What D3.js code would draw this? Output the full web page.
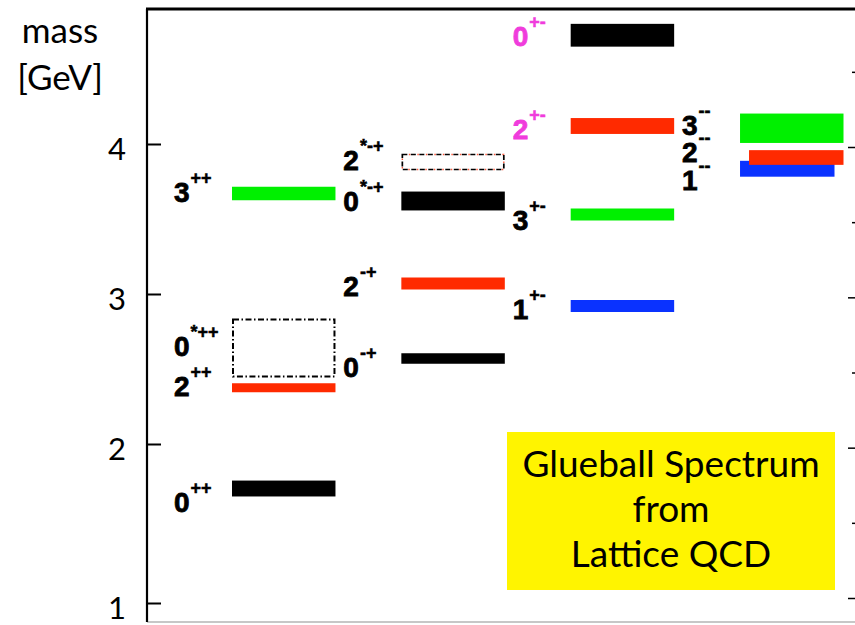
<!DOCTYPE html>
<html>
<head>
<meta charset="utf-8">
<script src="https://cdn.jsdelivr.net/npm/d3@7"></script>
<style>
  html, body { margin: 0; padding: 0; background: #fff; }
  svg { display: block; }
</style>
</head>
<body>
<svg id="chart" width="855" height="625"></svg>
<script>
// Glueball mass spectrum (GeV), grouped by PC quantum numbers.
const columns = ["++", "-+", "+-", "--"];

const stateSpin   = ["0", "2", "3", "0", "0", "2", "0", "2", "1", "3", "2", "0", "3", "1", "2"];
const stateSup    = ["++", "++", "++", "*++", "-+", "-+", "*-+", "*-+", "+-", "+-", "+-", "+-", "--", "--", "--"];
const stateColumn = ["++", "++", "++", "++", "-+", "-+", "-+", "-+", "+-", "+-", "+-", "+-", "--", "--", "--"];
const stateMass   = [1.72, 2.375, 3.67, 2.64, 2.57, 3.07, 3.62, 3.88, 2.92, 3.53, 4.12, 4.725, 4.105, 3.835, 3.91];
const stateError  = [0.05, 0.03, 0.045, 0.19, 0.035, 0.04, 0.063, 0.05, 0.04, 0.04, 0.053, 0.076, 0.098, 0.053, 0.049];
const stateKind   = ["J0", "J2", "J3", "excited", "J0", "J2", "J0", "excited2", "J1", "J3", "J2", "J0", "J3", "J1", "J2"];
const stateExotic = [false, false, false, false, false, false, false, false, false, false, true, true, false, false, false];

const massTicks = [1, 2, 3, 4];
const rightTicksMajor = [1, 2, 3, 4];
const rightTicksMinor = [1.5, 2.5, 3.5, 4.5];
const axisTitle = ["mass", "[GeV]"];
const boxLines = ["Glueball Spectrum", "from", "Lattice QCD"];

// ---- layout ----
const W = 855, H = 625;
const frame = { left: 147, top: 9, right: 856, bottom: 622 };
const colour = {
  J0: "#000000", J1: "#0a32ff", J2: "#ff2a00", J3: "#00f000",
  exotic: "#f03cdc", text: "#000000", box: "#fff400"
};
// vertical distance from bar centre to label baseline, px
const labelDrop = [23, 8, 8, 8, 18, 12, 10, 8, 12.5, 15.5, 13, 11, 7, 21, 4.5];
// horizontal trim of the overlapping bars in the last column, px
const trimLeft  = [0, 0, 0, 0, 0, 0, 0, 0, 0, 0, 0, 0, 0, 0, 9];
const trimRight = [0, 0, 0, 0, 0, 0, 0, 0, 0, 0, 0, 0, 0, 9, 0];

const svg = d3.select("#chart");

const y = d3.scaleLinear().domain([1, 2, 4]).range([603, 444, 144]);
const yRight = d3.scaleLinear().domain([1, 4]).range([598, 147]);
const x = d3.scaleBand().domain(columns).range([232, 843.5]).paddingInner(0.389).paddingOuter(0);

// frame
svg.append("line").attr("x1", frame.left).attr("x2", W).attr("y1", frame.bottom).attr("y2", frame.bottom)
  .attr("stroke", "#b4b4b4").attr("stroke-width", 1.5);
svg.append("line").attr("x1", frame.left - 1).attr("x2", W).attr("y1", frame.top).attr("y2", frame.top)
  .attr("stroke", "#000").attr("stroke-width", 3);
svg.append("line").attr("x1", frame.left).attr("x2", frame.left).attr("y1", frame.top).attr("y2", frame.bottom)
  .attr("stroke", "#000").attr("stroke-width", 2.2);

// left mass axis: ticks point inward, labels outside
const leftAxis = svg.append("g").attr("transform", `translate(${frame.left},0)`)
  .call(d3.axisLeft(y).tickValues(massTicks).tickSizeInner(-14).tickSizeOuter(0).tickPadding(21)
    .tickFormat(d3.format("d")));
leftAxis.select(".domain").remove();
leftAxis.selectAll(".tick line").attr("stroke", "#000").attr("stroke-width", 2);
leftAxis.selectAll(".tick text").attr("dy", "0.5em")
  .style("font-family", "Lato, 'Open Sans', sans-serif").style("font-size", "31px").attr("fill", "#000");

// right axis: unlabeled major and minor ticks
const rightMajor = svg.append("g").attr("transform", `translate(${W},0)`)
  .call(d3.axisRight(yRight).tickValues(rightTicksMajor).tickSizeInner(-7).tickSizeOuter(0).tickFormat(""));
const rightMinor = svg.append("g").attr("transform", `translate(${W},0)`)
  .call(d3.axisRight(yRight).tickValues(rightTicksMinor).tickSizeInner(-3).tickSizeOuter(0).tickFormat(""));
[rightMajor, rightMinor].forEach(g => {
  g.select(".domain").remove();
  g.selectAll(".tick line").attr("stroke", "#000").attr("stroke-width", 1.5);
});

// axis title
const title = svg.append("text").attr("text-anchor", "middle")
  .style("font-family", "Lato, 'Open Sans', sans-serif").style("font-size", "35px").attr("fill", "#000");
title.append("tspan").attr("x", 60).attr("y", 43).text(axisTitle[0]);
title.append("tspan").attr("x", 60).attr("y", 90).text(axisTitle[1]);

// states
const states = stateMass.map((m, i) => ({
  i, mass: m, err: stateError[i], spin: stateSpin[i], sup: stateSup[i],
  col: stateColumn[i], kind: stateKind[i], exotic: stateExotic[i]
}));

// filled bars (blue under red in the last column)
const barStates = states.filter(s => !s.kind.startsWith("excited"));
svg.append("g").selectAll("rect").data(barStates).join("rect")
  .attr("x", s => x(s.col) + trimLeft[s.i])
  .attr("width", s => x.bandwidth() - trimLeft[s.i] - trimRight[s.i])
  .attr("y", s => y(s.mass + s.err))
  .attr("height", s => y(s.mass - s.err) - y(s.mass + s.err))
  .attr("fill", s => colour[s.kind]);

// excited states drawn as open dashed boxes
const boxStates = states.filter(s => s.kind.startsWith("excited"));
const boxG = svg.append("g");
boxStates.forEach(s => {
  const bx = x(s.col) + 1, bw = x.bandwidth() - 2;
  const by = y(s.mass + s.err), bh = y(s.mass - s.err) - y(s.mass + s.err);
  if (s.kind === "excited2") {
    boxG.append("rect").attr("x", bx).attr("y", by).attr("width", bw).attr("height", bh)
      .attr("fill", "none").attr("stroke", "#ff5a3c").attr("stroke-width", 1.4)
      .attr("stroke-dasharray", "1.5,7").attr("stroke-dashoffset", -6.5);
    boxG.append("rect").attr("x", bx).attr("y", by).attr("width", bw).attr("height", bh)
      .attr("fill", "none").attr("stroke", "#000").attr("stroke-width", 1.7)
      .attr("stroke-dasharray", "5,3.5");
  } else {
    boxG.append("rect").attr("x", bx).attr("y", by).attr("width", bw).attr("height", bh)
      .attr("fill", "none").attr("stroke", "#000").attr("stroke-width", 2)
      .attr("stroke-dasharray", "6,2.5,1.5,2.5");
  }
});

// state labels J^{PC}
const labels = svg.append("g").selectAll("text").data(states).join("text")
  .attr("x", s => x(s.col) - 58)
  .attr("y", s => y(s.mass) + labelDrop[s.i])
  .attr("fill", s => s.exotic ? colour.exotic : colour.text)
  .attr("stroke", s => s.exotic ? colour.exotic : colour.text)
  .style("font-family", "'Liberation Sans', Arial, sans-serif")
  .style("font-weight", "bold");
labels.append("tspan").style("font-size", "28px").attr("stroke-width", 0.8).text(s => s.spin);
labels.append("tspan").attr("dy", -18).attr("dx", 1).style("font-size", "18px").attr("stroke-width", 0.5)
  .text(s => s.sup);

// caption box
const bx0 = 507, by0 = 432, bx1 = 835, by1 = 590;
svg.append("rect").attr("x", bx0).attr("y", by0).attr("width", bx1 - bx0).attr("height", by1 - by0)
  .attr("fill", colour.box);
svg.append("g").selectAll("text").data(boxLines).join("text")
  .attr("x", (bx0 + bx1) / 2)
  .attr("y", (d, i) => 477 + i * 45)
  .attr("text-anchor", "middle")
  .style("font-family", "Lato, 'Open Sans', sans-serif").style("font-size", "37px")
  .attr("fill", "#000")
  .text(d => d);
</script>
</body>
</html>
